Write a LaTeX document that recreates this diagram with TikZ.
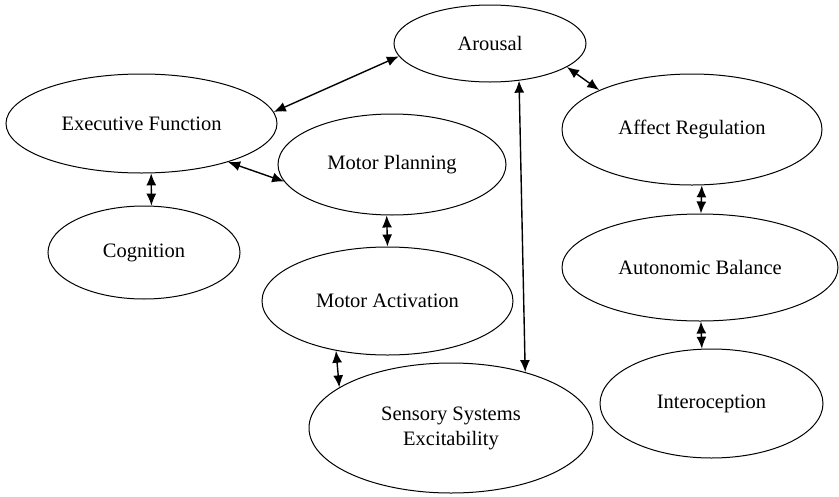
\documentclass[tikz,border=0pt]{standalone}
\usepackage{fontspec}
\setmainfont{Liberation Serif}
\usepackage{tikz}
\usetikzlibrary{arrows.meta,shapes.geometric}

\tikzset{
  bubble/.style={draw,ellipse,line width=1pt,inner sep=0pt,align=center,
    font=\rmfamily\fontsize{20.5}{25}\selectfont},
  link/.style={{Latex[length=12pt,width=10pt]}-{Latex[length=12pt,width=10pt]},line width=1.4pt}
}

\begin{document}
\begin{tikzpicture}[x=1pt,y=-1pt]
\useasboundingbox (0,0) rectangle (839,496);

\node[bubble,minimum width=192pt,minimum height=77pt] (arousal) at (490,43.5) {Arousal};
\node[bubble,minimum width=271pt,minimum height=99pt] (exec) at (141.5,123.5) {Executive Function};
\node[bubble,minimum width=228pt,minimum height=101pt] (plan) at (392,164.5) {Motor Planning};
\node[bubble,minimum width=260pt,minimum height=111pt] (affect) at (692,129.5) {Affect Regulation};
\node[bubble,minimum width=192pt,minimum height=93pt] (cog) at (144,252.5) {Cognition};
\node[bubble,minimum width=251pt,minimum height=108pt] (act) at (387.5,301) {Motor Activation};
\node[bubble,minimum width=276pt,minimum height=107pt] (auto) at (700,267.5) {Autonomic Balance};
\node[bubble,minimum width=284pt,minimum height=130pt] (sens) at (451,428) {Sensory Systems\\Excitability};
\node[bubble,minimum width=223pt,minimum height=109pt] (intero) at (711.5,403.5) {Interoception};

%\draw (0,0) -- (839,496);

\draw[link] (exec.5.3) -- (arousal.188.4);
\draw[link] (arousal.-17.8) -- (affect.157.5);
\draw[link] (arousal.-52.8) -- (sens.37.5);
\draw[link] (exec.-79.1) -- (cog.81.6);
\draw[link] (exec.-24.5) -- (plan.189.3);
\draw[link] (plan.264.3) -- (act.90.5);
\draw[link] (act.224.1) -- (sens.160.5);
\draw[link] (affect.-80.8) -- (auto.89);
\draw[link] (auto.-89) -- (intero.100.7);

\end{tikzpicture}
\end{document}
